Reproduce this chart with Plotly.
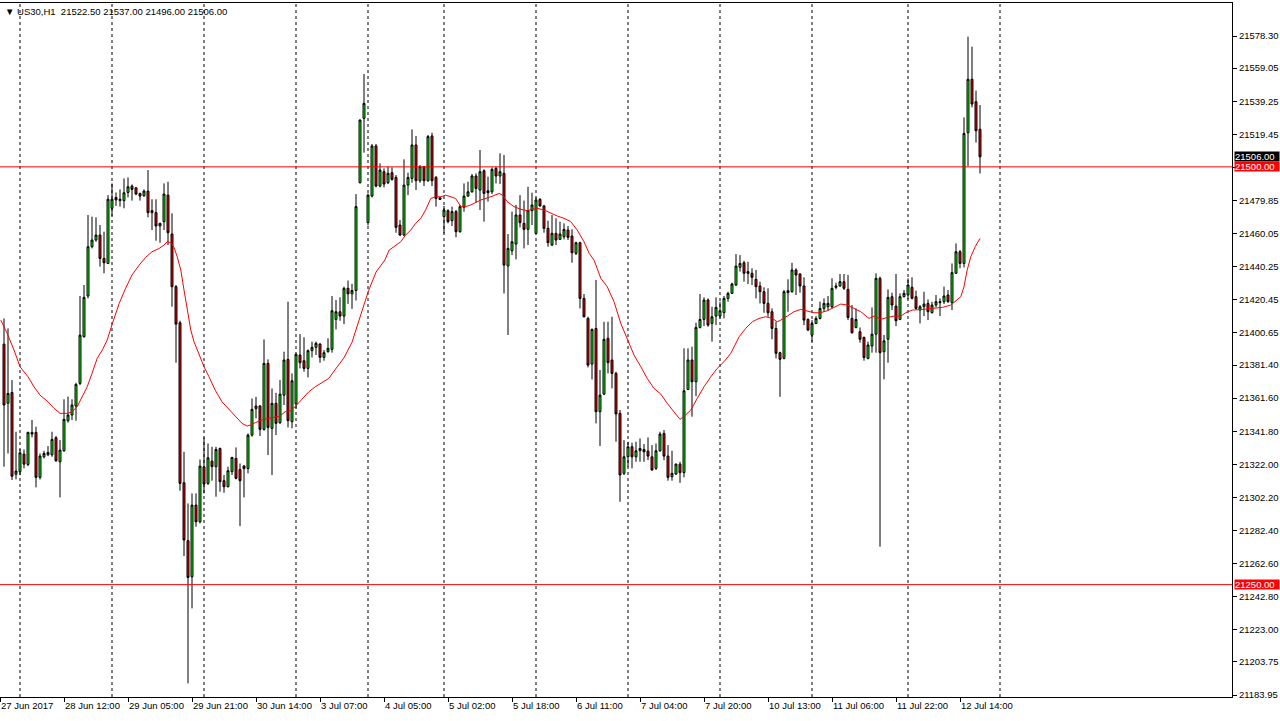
import plotly.graph_objects as go

# ---- OHLC data (H1 bars, index 0 = first full bar at left edge) ----
opens = [21393.9, 21358.5, 21365.0, 21316.0, 21317.6, 21328.1, 21321.9, 21341.1, 21341.1, 21314.2,
         21326.5, 21327.7, 21327.7, 21337.9, 21323.5, 21330.1, 21348.1, 21351.5, 21356.9, 21370.4,
         21398.3, 21422.7, 21452.2, 21456.2, 21459.2, 21445.2, 21442.2, 21475.2, 21481.7, 21479.8,
         21479.8, 21484.7, 21488.5, 21487.5, 21484.1, 21482.7, 21485.5, 21473.8, 21472.6, 21464.6,
         21467.2, 21483.1, 21459.8, 21428.3, 21406.7, 21311.0, 21276.3, 21254.7, 21297.6, 21287.6,
         21320.5, 21310.6, 21323.9, 21320.6, 21331.5, 21312.2, 21308.6, 21317.6, 21325.5, 21318.9,
         21321.0, 21319.5, 21339.5, 21355.3, 21356.9, 21342.9, 21382.4, 21343.5, 21358.5, 21346.9,
         21363.4, 21384.8, 21347.5, 21358.1, 21387.4, 21384.0, 21379.4, 21390.0, 21392.0, 21394.0,
         21386.0, 21389.4, 21390.8, 21408.7, 21413.3, 21410.7, 21427.3, 21424.0, 21426.0, 21490.5,
         21529.0, 21466.6, 21482.5, 21512.5, 21488.5, 21497.1, 21490.5, 21496.5, 21493.7, 21465.2,
         21459.2, 21489.1, 21493.1, 21513.1, 21491.7, 21500.1, 21491.7, 21518.5, 21493.7, 21481.5,
         21470.2, 21473.8, 21467.8, 21473.2, 21461.2, 21475.8, 21482.5, 21485.1, 21494.5, 21486.1,
         21497.7, 21485.7, 21485.1, 21499.1, 21494.5, 21496.1, 21440.7, 21449.8, 21453.8, 21471.2,
         21466.2, 21462.6, 21473.8, 21460.2, 21480.6, 21476.6, 21463.2, 21453.2, 21460.2, 21456.6,
         21458.2, 21462.2, 21458.6, 21448.2, 21454.6, 21421.3, 21409.3, 21382.0, 21403.3, 21353.5,
         21364.0, 21397.4, 21384.4, 21376.4, 21352.5, 21316.6, 21326.5, 21332.5, 21326.5, 21330.1,
         21330.9, 21329.9, 21326.5, 21319.6, 21330.1, 21340.5, 21326.9, 21314.6, 21316.2, 21322.1,
         21317.0, 21366.8, 21384.4, 21371.4, 21403.9, 21408.7, 21420.3, 21406.3, 21410.7, 21410.7,
         21412.7, 21421.3, 21424.3, 21429.3, 21439.9, 21442.6, 21437.3, 21436.3, 21432.7, 21428.7,
         21425.3, 21418.3, 21413.3, 21403.3, 21388.8, 21385.4, 21424.7, 21425.3, 21438.3, 21435.9,
         21428.7, 21408.7, 21399.3, 21406.3, 21409.3, 21415.3, 21416.3, 21416.3, 21427.9, 21428.7,
         21431.3, 21426.7, 21409.3, 21403.9, 21401.3, 21397.95, 21385.4, 21392.8, 21399.9, 21433.3,
         21389.4, 21396.8, 21422.3, 21416.7, 21408.7, 21422.3, 21423.3, 21427.9, 21422.3, 21414.3,
         21416.3, 21418.3, 21412.7, 21417.3, 21418.7, 21419.3, 21423.3, 21418.7, 21436.3, 21449.2,
         21442.2, 21520.4, 21552.4, 21539.0, 21522.5]
highs = [21409.3, 21403.3, 21372.4, 21341.5, 21331.1, 21330.9, 21341.5, 21348.5, 21344.5, 21328.5,
         21330.1, 21332.9, 21341.5, 21338.9, 21336.5, 21360.9, 21362.5, 21360.9, 21370.8, 21422.7,
         21429.3, 21471.2, 21470.2, 21469.8, 21465.2, 21461.2, 21483.1, 21490.1, 21484.7, 21486.5,
         21493.1, 21493.7, 21489.5, 21487.7, 21484.5, 21486.5, 21498.1, 21480.6, 21480.6, 21466.5,
         21490.1, 21491.1, 21472.2, 21429.3, 21407.9, 21329.5, 21298.6, 21304.6, 21304.6, 21324.9,
         21338.1, 21334.5, 21332.5, 21332.5, 21332.0, 21315.6, 21320.6, 21326.5, 21332.1, 21322.5,
         21321.5, 21340.5, 21361.4, 21362.4, 21357.5, 21396.7, 21384.8, 21367.4, 21364.8, 21372.4,
         21389.4, 21419.3, 21376.4, 21388.4, 21399.9, 21398.0, 21390.8, 21395.4, 21395.4, 21394.4,
         21390.4, 21397.4, 21422.7, 21420.3, 21421.9, 21428.3, 21432.0, 21430.0, 21483.7, 21528.4,
         21555.6, 21484.0, 21513.7, 21513.7, 21502.1, 21499.1, 21500.1, 21499.7, 21495.1, 21468.2,
         21504.5, 21496.5, 21522.4, 21518.5, 21501.1, 21500.5, 21519.1, 21520.4, 21494.5, 21481.7,
         21476.6, 21474.6, 21476.2, 21474.2, 21477.2, 21490.1, 21491.1, 21495.7, 21496.1, 21510.1,
         21498.5, 21494.1, 21499.7, 21500.1, 21508.1, 21507.1, 21459.8, 21473.2, 21477.2, 21483.1,
         21479.8, 21488.1, 21484.5, 21481.7, 21481.2, 21477.2, 21467.8, 21471.2, 21469.2, 21467.2,
         21466.2, 21464.6, 21462.6, 21455.2, 21455.2, 21423.9, 21410.3, 21403.3, 21432.3, 21378.4,
         21407.3, 21407.3, 21410.3, 21377.4, 21354.5, 21336.5, 21335.5, 21334.9, 21335.5, 21337.5,
         21334.1, 21338.1, 21333.5, 21334.5, 21341.5, 21342.5, 21333.5, 21330.1, 21322.5, 21323.5,
         21391.4, 21391.4, 21392.4, 21406.7, 21423.9, 21421.9, 21421.3, 21416.3, 21421.9, 21419.3,
         21422.7, 21425.3, 21430.7, 21447.8, 21447.2, 21443.8, 21443.2, 21439.3, 21438.3, 21431.3,
         21427.9, 21427.3, 21415.3, 21407.3, 21389.4, 21426.3, 21432.7, 21442.6, 21439.3, 21436.3,
         21433.9, 21409.3, 21408.3, 21410.7, 21419.3, 21421.3, 21422.7, 21433.3, 21430.7, 21435.9,
         21435.9, 21435.3, 21417.3, 21415.3, 21403.9, 21398.4, 21395.4, 21415.9, 21436.3, 21434.3,
         21399.4, 21426.7, 21424.7, 21435.9, 21424.3, 21426.3, 21433.3, 21433.9, 21425.9, 21417.3,
         21425.3, 21420.7, 21419.3, 21423.3, 21421.3, 21428.3, 21426.3, 21442.2, 21454.2, 21450.2,
         21529.6, 21577.9, 21571.9, 21545.6, 21537.0]
lows = [21320.6, 21328.5, 21312.6, 21313.0, 21315.6, 21319.6, 21320.9, 21338.1, 21308.2, 21312.9,
        21325.5, 21326.9, 21326.5, 21323.5, 21302.2, 21329.5, 21346.9, 21348.5, 21348.1, 21369.4,
        21397.9, 21421.3, 21451.2, 21455.2, 21440.3, 21436.3, 21441.8, 21470.6, 21476.6, 21476.2,
        21475.2, 21481.7, 21479.8, 21483.1, 21479.8, 21482.1, 21469.8, 21462.2, 21455.8, 21454.6,
        21462.2, 21453.2, 21416.3, 21382.8, 21306.2, 21267.1, 21190.9, 21235.8, 21284.6, 21286.6,
        21304.6, 21309.6, 21312.2, 21302.6, 21305.6, 21305.0, 21308.2, 21315.6, 21313.0, 21285.0,
        21302.2, 21316.6, 21338.5, 21349.5, 21338.9, 21342.1, 21327.5, 21315.6, 21339.5, 21346.1,
        21357.5, 21344.1, 21343.5, 21355.5, 21379.4, 21377.4, 21374.0, 21386.0, 21387.4, 21382.8,
        21384.0, 21388.8, 21388.8, 21402.7, 21407.9, 21405.9, 21418.0, 21415.0, 21420.0, 21490.1,
        21508.5, 21465.0, 21481.7, 21487.7, 21487.7, 21487.7, 21489.7, 21491.7, 21460.6, 21458.6,
        21458.6, 21483.1, 21490.5, 21486.1, 21490.5, 21488.5, 21491.1, 21488.5, 21476.2, 21480.3,
        21460.2, 21466.2, 21464.6, 21457.8, 21460.6, 21473.2, 21482.1, 21484.5, 21478.6, 21474.2,
        21467.2, 21479.2, 21483.7, 21490.1, 21489.7, 21424.3, 21399.4, 21447.2, 21444.6, 21463.8,
        21451.2, 21453.2, 21465.2, 21459.8, 21476.2, 21460.6, 21452.2, 21452.6, 21453.2, 21456.2,
        21456.6, 21456.2, 21442.6, 21447.2, 21415.3, 21409.9, 21380.0, 21372.8, 21346.5, 21332.9,
        21363.4, 21376.4, 21367.4, 21335.5, 21299.6, 21315.6, 21320.5, 21319.6, 21323.5, 21323.5,
        21323.5, 21324.5, 21318.2, 21318.6, 21329.5, 21324.5, 21312.2, 21312.2, 21315.6, 21310.9,
        21314.2, 21366.4, 21350.5, 21362.8, 21403.3, 21404.7, 21404.3, 21395.4, 21405.3, 21409.3,
        21409.3, 21419.3, 21423.9, 21428.7, 21437.3, 21431.3, 21429.9, 21429.3, 21421.3, 21418.3,
        21412.7, 21410.3, 21396.8, 21385.4, 21362.4, 21384.8, 21413.3, 21424.7, 21423.3, 21424.7,
        21405.3, 21401.9, 21395.4, 21405.9, 21408.7, 21413.3, 21413.9, 21415.3, 21426.7, 21428.3,
        21426.3, 21408.3, 21400.3, 21403.3, 21394.8, 21384.0, 21384.8, 21388.8, 21388.8, 21272.7,
        21372.8, 21382.8, 21414.3, 21404.7, 21408.3, 21421.9, 21420.7, 21420.7, 21414.7, 21406.3,
        21410.7, 21408.3, 21412.3, 21415.9, 21410.7, 21417.9, 21418.7, 21414.3, 21435.9, 21439.3,
        21439.8, 21500.5, 21535.6, 21514.5, 21496.0]
closes = [21357.5, 21364.4, 21314.9, 21318.0, 21328.9, 21322.1, 21341.1, 21340.1, 21314.2, 21326.9,
          21328.5, 21329.1, 21336.9, 21324.1, 21330.5, 21348.9, 21351.5, 21357.5, 21369.8, 21399.3,
          21421.9, 21452.2, 21456.2, 21459.2, 21445.2, 21442.6, 21480.6, 21480.6, 21480.2, 21480.6,
          21484.5, 21488.1, 21486.5, 21483.7, 21482.5, 21485.5, 21472.6, 21472.6, 21464.6, 21466.2,
          21483.7, 21460.6, 21428.3, 21405.9, 21310.6, 21276.7, 21254.3, 21297.6, 21287.6, 21320.9,
          21310.2, 21325.9, 21320.6, 21330.9, 21311.6, 21308.6, 21318.2, 21326.1, 21313.6, 21312.2,
          21319.4, 21339.5, 21354.9, 21356.9, 21342.9, 21382.4, 21344.1, 21358.5, 21346.5, 21364.0,
          21384.4, 21348.1, 21372.0, 21387.8, 21382.8, 21379.4, 21390.0, 21392.0, 21394.4, 21386.0,
          21388.8, 21391.4, 21413.9, 21413.3, 21410.7, 21427.3, 21424.0, 21426.0, 21476.2, 21528.0,
          21538.0, 21483.1, 21512.5, 21488.5, 21498.1, 21489.7, 21496.1, 21492.5, 21463.8, 21459.2,
          21489.1, 21493.7, 21513.1, 21491.7, 21500.1, 21491.7, 21518.1, 21491.7, 21481.1, 21480.5,
          21474.2, 21467.2, 21473.2, 21461.2, 21476.2, 21482.5, 21485.1, 21494.5, 21487.1, 21497.1,
          21484.1, 21484.5, 21498.5, 21494.5, 21497.1, 21441.2, 21451.2, 21455.2, 21471.2, 21466.6,
          21462.6, 21473.8, 21477.2, 21480.2, 21476.6, 21463.2, 21454.6, 21460.2, 21456.2, 21459.8,
          21462.6, 21457.8, 21448.6, 21454.6, 21421.3, 21410.3, 21381.4, 21402.7, 21353.5, 21363.4,
          21396.8, 21382.8, 21376.4, 21352.1, 21315.6, 21326.5, 21332.5, 21326.5, 21330.1, 21331.5,
          21329.5, 21326.9, 21318.6, 21330.1, 21340.1, 21326.9, 21314.2, 21316.6, 21322.1, 21317.0,
          21366.0, 21384.4, 21371.4, 21403.9, 21408.7, 21420.3, 21405.3, 21410.3, 21415.9, 21413.9,
          21421.3, 21424.3, 21429.9, 21440.6, 21442.2, 21436.3, 21436.3, 21433.9, 21428.3, 21425.3,
          21418.3, 21412.7, 21403.3, 21388.4, 21384.8, 21425.3, 21425.9, 21438.3, 21435.3, 21428.7,
          21408.3, 21402.3, 21406.3, 21409.3, 21415.3, 21418.3, 21418.3, 21427.3, 21428.7, 21431.3,
          21427.3, 21409.9, 21400.7, 21408.7, 21396.8, 21385.9, 21393.4, 21399.9, 21433.3, 21388.8,
          21395.9, 21421.9, 21417.3, 21407.9, 21422.3, 21424.3, 21429.3, 21421.3, 21415.3, 21416.3,
          21417.9, 21413.3, 21417.3, 21419.3, 21419.3, 21422.7, 21419.3, 21436.7, 21449.2, 21442.2,
          21520.0, 21552.4, 21537.6, 21521.6, 21506.0]
bar_idx = list(range(len(opens)))

# ---- moving average (red line): bar position / value ----
ma_pos = [-0.8, 0.8, 2.5, 4, 6, 7.5, 9, 11, 12.5, 14, 16, 17, 18.3, 19.6, 20.8, 22, 23.3, 24.6, 25.8,
          27.1, 28.8, 30.4, 32, 33.8, 35.4, 37, 38.8, 40, 40.8, 41.7, 42.5, 43.3, 44.2, 45, 45.8, 46.7,
          47.5, 48.3, 49.2, 50, 51.2, 52.8, 54.5, 56.2, 57.8, 59.5, 60.8, 61.6, 62.8, 64.5, 66.2, 67.8,
          69, 70.3, 71.6, 72.8, 74.5, 76.2, 77.8, 79.5, 81.2, 82.4, 83.7, 85, 87, 89, 91, 93, 95.2,
          96.3, 97.5, 99.2, 100.4, 101.7, 102.9, 104.2, 105.4, 106.7, 107.9, 109.2, 110.4, 111.7,
          112.9, 114.2, 115.4, 116.7, 119.2, 121.7, 123.8, 124.6, 125.8, 127.5, 129.2, 130.8, 132.1,
          133.3, 135, 136.7, 138.3, 140, 141.7, 143.3, 145, 146.3, 147.5, 148.3, 149.2, 150.8, 152.5,
          154.2, 155.8, 157.5, 159.2, 160.8, 162.5, 164.2, 165.8, 167.5, 169, 170.4, 171.7, 173.3,
          175, 176.7, 178.3, 180, 181.7, 183.8, 185.4, 187.1, 188.75, 190.4, 192.1, 193.3, 194.2,
          195.8, 197.5, 199.2, 200.8, 202.5, 204.1, 205.8, 207.5, 209.2, 210.8, 212.5, 214.2, 216.25,
          217.5, 219.2, 220.8, 222.5, 224.2, 225.4, 227.1, 229.6, 232.1, 234.6, 236.7, 237.9, 239.2,
          240, 240.8, 241.7, 242.8, 244]
ma_val = [21408.3, 21400.3, 21390.4, 21380.4, 21374.4, 21368.4, 21363.4, 21359.4, 21355.5, 21352.5,
          21352.5, 21353.5, 21356.5, 21362.4, 21368.4, 21376.4, 21385.4, 21390.4, 21396.4, 21406.3,
          21418.3, 21427.3, 21435.3, 21441.2, 21445.8, 21449.2, 21451.2, 21453.2, 21455.2, 21454.6,
          21451.8, 21446.2, 21438.3, 21426.3, 21414.3, 21402.3, 21395.4, 21390.4, 21385.4, 21380.4,
          21374.6, 21366.4, 21359.4, 21354.9, 21350.5, 21346.5, 21344.9, 21345.5, 21346.9, 21348.5,
          21349.5, 21350.1, 21350.9, 21353.5, 21354.1, 21356.5, 21360.9, 21365.4, 21368.4, 21370.8,
          21373.4, 21377.4, 21382.0, 21385.8, 21395.0, 21410.0, 21425.0, 21437.0, 21444.2, 21450.2,
          21452.2, 21455.2, 21459.2, 21462.2, 21466.2, 21469.2, 21474.2, 21481.1, 21482.1, 21482.1,
          21483.1, 21482.1, 21481.1, 21476.2, 21476.2, 21477.2, 21480.2, 21482.1, 21484.1, 21483.1,
          21479.2, 21476.2, 21474.6, 21473.8, 21474.6, 21475.2, 21474.2, 21472.2, 21470.6, 21469.2,
          21467.2, 21462.2, 21455.2, 21448.2, 21444.2, 21439.2, 21433.3, 21428.3, 21419.3, 21406.3,
          21397.4, 21387.4, 21380.4, 21373.4, 21367.4, 21364.0, 21358.5, 21353.5, 21348.9, 21351.5,
          21354.5, 21361.4, 21368.4, 21374.4, 21379.4, 21383.4, 21388.4, 21398.4, 21403.3, 21407.3,
          21409.3, 21410.3, 21409.3, 21407.3, 21408.3, 21410.7, 21413.3, 21414.7, 21413.9, 21412.7,
          21412.7, 21413.9, 21415.9, 21417.9, 21417.3, 21415.3, 21413.3, 21409.3, 21410.7, 21408.7,
          21409.9, 21410.7, 21410.7, 21412.7, 21414.3, 21414.7, 21415.3, 21415.9, 21417.3, 21419.9,
          21422.3, 21428.3, 21438.3, 21446.2, 21452.2, 21457.2]

# ---- axis labels ----
ytick_vals = [21578.30, 21559.05, 21539.25, 21519.45, 21499.65, 21479.85, 21460.05, 21440.25,
              21420.45, 21400.65, 21381.40, 21361.60, 21341.80, 21322.00, 21302.20, 21282.40,
              21262.60, 21242.80, 21223.00, 21203.75, 21183.95]
ytick_text = ["%.2f" % v for v in ytick_vals]
xtick_pos = [-1, 15, 31, 47, 63, 79, 95, 111, 127, 143, 159, 175, 191, 207, 223, 239]
xtick_text = ["27 Jun 2017", "28 Jun 12:00", "29 Jun 05:00", "29 Jun 21:00", "30 Jun 14:00",
              "3 Jul 07:00", "4 Jul 05:00", "5 Jul 02:00", "5 Jul 18:00", "6 Jul 11:00",
              "7 Jul 04:00", "7 Jul 20:00", "10 Jul 13:00", "11 Jul 06:00", "11 Jul 22:00",
              "12 Jul 14:00"]
day_start_bars = [4, 27, 50, 73, 91, 110, 133, 156, 179, 202, 226, 249]
level_lines = [21500.00, 21250.00]
last_price = 21506.00
header = "▼ US30,H1  21522.50 21537.00 21496.00 21506.00"

FONT = "Tahoma, 'Liberation Sans', Arial, sans-serif"

fig = go.Figure()
fig.add_trace(go.Candlestick(
    x=bar_idx, open=opens, high=highs, low=lows, close=closes,
    increasing=dict(fillcolor="#00FF00", line=dict(color="black", width=1)),
    decreasing=dict(fillcolor="#FF0000", line=dict(color="black", width=1)),
    whiskerwidth=0, showlegend=False, hoverinfo="skip"))
fig.add_trace(go.Scatter(x=ma_pos, y=ma_val, mode="lines",
                         line=dict(color="#FF0000", width=1), showlegend=False, hoverinfo="skip"))

shapes = []
for b in day_start_bars:
    shapes.append(dict(type="line", xref="x", yref="paper", x0=b, x1=b, y0=0, y1=1,
                       line=dict(color="black", width=1, dash="3px,3px"), layer="below"))
for lv in level_lines:
    shapes.append(dict(type="line", xref="paper", yref="y", x0=0, x1=1, y0=lv, y1=lv,
                       line=dict(color="#FF0000", width=1), layer="above"))

annotations = [
    dict(text=header, xref="paper", yref="paper", x=0, y=1, xanchor="left", yanchor="top",
         xshift=3, yshift=-1, showarrow=False, font=dict(family=FONT, size=9.5, color="black")),
]
for val, bg in [(last_price, "black"), (level_lines[0], "#FF0000"), (level_lines[1], "#FF0000")]:
    annotations.append(dict(text="%.2f" % val, xref="paper", yref="y", x=1, y=val,
                            xanchor="left", yanchor="middle", xshift=2, showarrow=False,
                            bgcolor=bg, width=44, height=9, align="left", borderpad=0,
                            font=dict(family=FONT, size=9.5, color="white")))

fig.update_layout(
    width=1280, height=721,
    margin=dict(l=0, r=48, t=3, b=24),
    paper_bgcolor="white", plot_bgcolor="white",
    font=dict(family=FONT, size=9.5, color="black"),
    shapes=shapes, annotations=annotations,
    xaxis=dict(range=[-1, 307], showgrid=False, zeroline=False, showline=True,
               linecolor="black", linewidth=1, mirror=True,
               ticks="outside", ticklen=4, tickcolor="black",
               tickvals=xtick_pos, ticktext=xtick_text, ticklabelposition="outside right",
               rangeslider=dict(visible=False), fixedrange=True),
    yaxis=dict(range=[21182.76, 21598.05], side="right", showgrid=False, zeroline=False,
               showline=True, linecolor="black", linewidth=1, mirror=True,
               ticks="outside", ticklen=4, tickcolor="black",
               tickvals=ytick_vals, ticktext=ytick_text, fixedrange=True),
)

fig.write_html("out.html", config={"displayModeBar": False, "staticPlot": True},
               post_script="document.body.style.margin='0px';document.body.style.overflow='hidden';")
